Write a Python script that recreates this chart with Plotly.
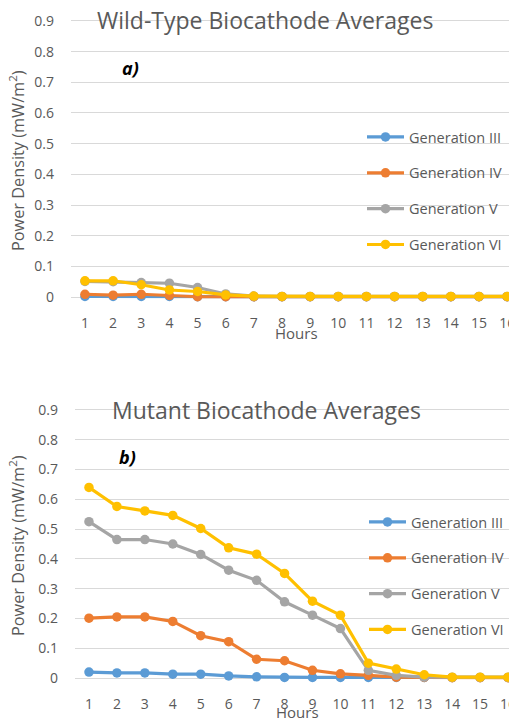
import plotly.graph_objects as go

hours = list(range(1, 17))
series_names = ["Generation III", "Generation IV", "Generation V", "Generation VI"]
colors = ["#5B9BD5", "#ED7D31", "#A5A5A5", "#FFC000"]

# Wild-type biocathode averages (mW/m^2)
wt_gen3 = [0.002, 0.002, 0.002, 0.002, 0.001, 0.001, 0.001, 0.001, 0.001, 0.001, 0.001, 0.001, 0.001, 0.001, 0.001, 0.001]
wt_gen4 = [0.009, 0.006, 0.009, 0.005, 0.001, 0.001, 0.001, 0.001, 0.001, 0.001, 0.001, 0.001, 0.001, 0.001, 0.001, 0.001]
wt_gen5 = [0.051, 0.050, 0.047, 0.045, 0.031, 0.010, 0.003, 0.002, 0.002, 0.002, 0.002, 0.002, 0.002, 0.002, 0.002, 0.002]
wt_gen6 = [0.053, 0.053, 0.040, 0.023, 0.018, 0.007, 0.003, 0.002, 0.002, 0.002, 0.002, 0.002, 0.002, 0.002, 0.002, 0.002]

# Mutant biocathode averages (mW/m^2)
mu_gen3 = [0.020, 0.017, 0.017, 0.013, 0.013, 0.007, 0.004, 0.002, 0.002, 0.002, 0.002, 0.002, 0.002, 0.002, 0.002, 0.002]
mu_gen4 = [0.201, 0.205, 0.205, 0.190, 0.142, 0.122, 0.063, 0.058, 0.026, 0.014, 0.009, 0.003, 0.002, 0.001, 0.001, 0.001]
mu_gen5 = [0.525, 0.465, 0.465, 0.450, 0.415, 0.362, 0.328, 0.256, 0.211, 0.166, 0.026, 0.009, 0.003, 0.002, 0.002, 0.002]
mu_gen6 = [0.640, 0.576, 0.561, 0.546, 0.502, 0.437, 0.416, 0.351, 0.258, 0.211, 0.050, 0.030, 0.011, 0.003, 0.003, 0.003]

wild_type = [wt_gen3, wt_gen4, wt_gen5, wt_gen6]
mutant = [mu_gen3, mu_gen4, mu_gen5, mu_gen6]

y_ticks = [0, 0.1, 0.2, 0.3, 0.4, 0.5, 0.6, 0.7, 0.8, 0.9]
y_tick_text = ["0", "0.1", "0.2", "0.3", "0.4", "0.5", "0.6", "0.7", "0.8", "0.9"]

FONT = "Open Sans"
TXT = "#595959"
OFF = 8                      # page body margin
W, H = 517 - OFF, 719 - OFF  # figure size


def px(x):
    """screen x -> paper fraction"""
    return (x - OFF) / W


def py(y):
    """screen y -> paper fraction"""
    return (H - (y - OFF)) / H


fig = go.Figure()

for i, (name, col) in enumerate(zip(series_names, colors)):
    fig.add_trace(go.Scatter(
        x=hours, y=wild_type[i], name=name, mode="lines+markers",
        line=dict(color=col, width=3.2), marker=dict(color=col, size=9.5),
        xaxis="x", yaxis="y", legend="legend", legendgroup="a%d" % i,
        cliponaxis=False))
for i, (name, col) in enumerate(zip(series_names, colors)):
    fig.add_trace(go.Scatter(
        x=hours, y=mutant[i], name=name, mode="lines+markers",
        line=dict(color=col, width=3.2), marker=dict(color=col, size=9.5),
        xaxis="x2", yaxis="y2", legend="legend2", legendgroup="b%d" % i,
        cliponaxis=False))

axis_common = dict(showline=False, zeroline=False, ticks="", color=TXT,
                   automargin=False, ticklabeloverflow="allow",
                   tickfont=dict(family=FONT, size=14, color=TXT))

fig.update_layout(
    width=W, height=H,
    margin=dict(l=0, r=0, t=0, b=0, autoexpand=False),
    paper_bgcolor="white", plot_bgcolor="white",
    font=dict(family=FONT, color=TXT),
    xaxis=dict(domain=[px(70.9), 1], range=[0.5, 16.35], tickmode="array",
               tickvals=hours, showgrid=False, anchor="y",
               ticklabelstandoff=13, **axis_common),
    yaxis=dict(domain=[py(300.1), py(17.9)], range=[-0.01, 0.91],
               tickmode="array", tickvals=y_ticks, ticktext=y_tick_text,
               showgrid=True, gridcolor="#D9D9D9", gridwidth=1, anchor="x",
               ticklabelstandoff=16, **axis_common),
    xaxis2=dict(domain=[px(75.0), 1], range=[0.5, 16.32], tickmode="array",
                tickvals=hours, showgrid=False, anchor="y2",
                ticklabelstandoff=13, **axis_common),
    yaxis2=dict(domain=[py(681.0), py(407.0)], range=[-0.01, 0.91],
                tickmode="array", tickvals=y_ticks, ticktext=y_tick_text,
                showgrid=True, gridcolor="#D9D9D9", gridwidth=1, anchor="x2",
                ticklabelstandoff=16, **axis_common),
    legend=dict(x=px(362), y=py(121), xanchor="left", yanchor="top",
                bgcolor="rgba(0,0,0,0)", font=dict(family=FONT, size=14.5, color=TXT),
                tracegroupgap=14, itemwidth=37, traceorder="grouped"),
    legend2=dict(x=px(364), y=py(506), xanchor="left", yanchor="top",
                 bgcolor="rgba(0,0,0,0)", font=dict(family=FONT, size=14.5, color=TXT),
                 tracegroupgap=14, itemwidth=37, traceorder="grouped"),
)

annots = [
    dict(text="Wild-Type Biocathode Averages", x=px(264.5), y=py(20), size=23),
    dict(text="Mutant Biocathode Averages", x=px(266.5), y=py(410), size=23),
    dict(text="<b><i>a)</i></b>", x=px(130), y=py(68), size=18, color="#000000"),
    dict(text="<b><i>b)</i></b>", x=px(127), y=py(457), size=18, color="#000000"),
    dict(text="Hours", x=px(296), y=py(333), size=15),
    dict(text="Hours", x=px(297), y=py(712), size=15),
    dict(text="Power Density (mW/m<sup>2</sup>)", x=px(17), y=py(161), size=16.3, angle=-90),
    dict(text="Power Density (mW/m<sup>2</sup>)", x=px(17), y=py(546), size=16.3, angle=-90),
]
for a in annots:
    fig.add_annotation(
        text=a["text"], x=a["x"], y=a["y"], xref="paper", yref="paper",
        xanchor="center", yanchor="middle", showarrow=False,
        textangle=a.get("angle", 0),
        font=dict(family=FONT, size=a["size"], color=a.get("color", TXT)))

fig.write_html(
    "out.html",
    post_script="document.documentElement.style.overflow='hidden';"
                "document.body.style.overflow='hidden';",
)
